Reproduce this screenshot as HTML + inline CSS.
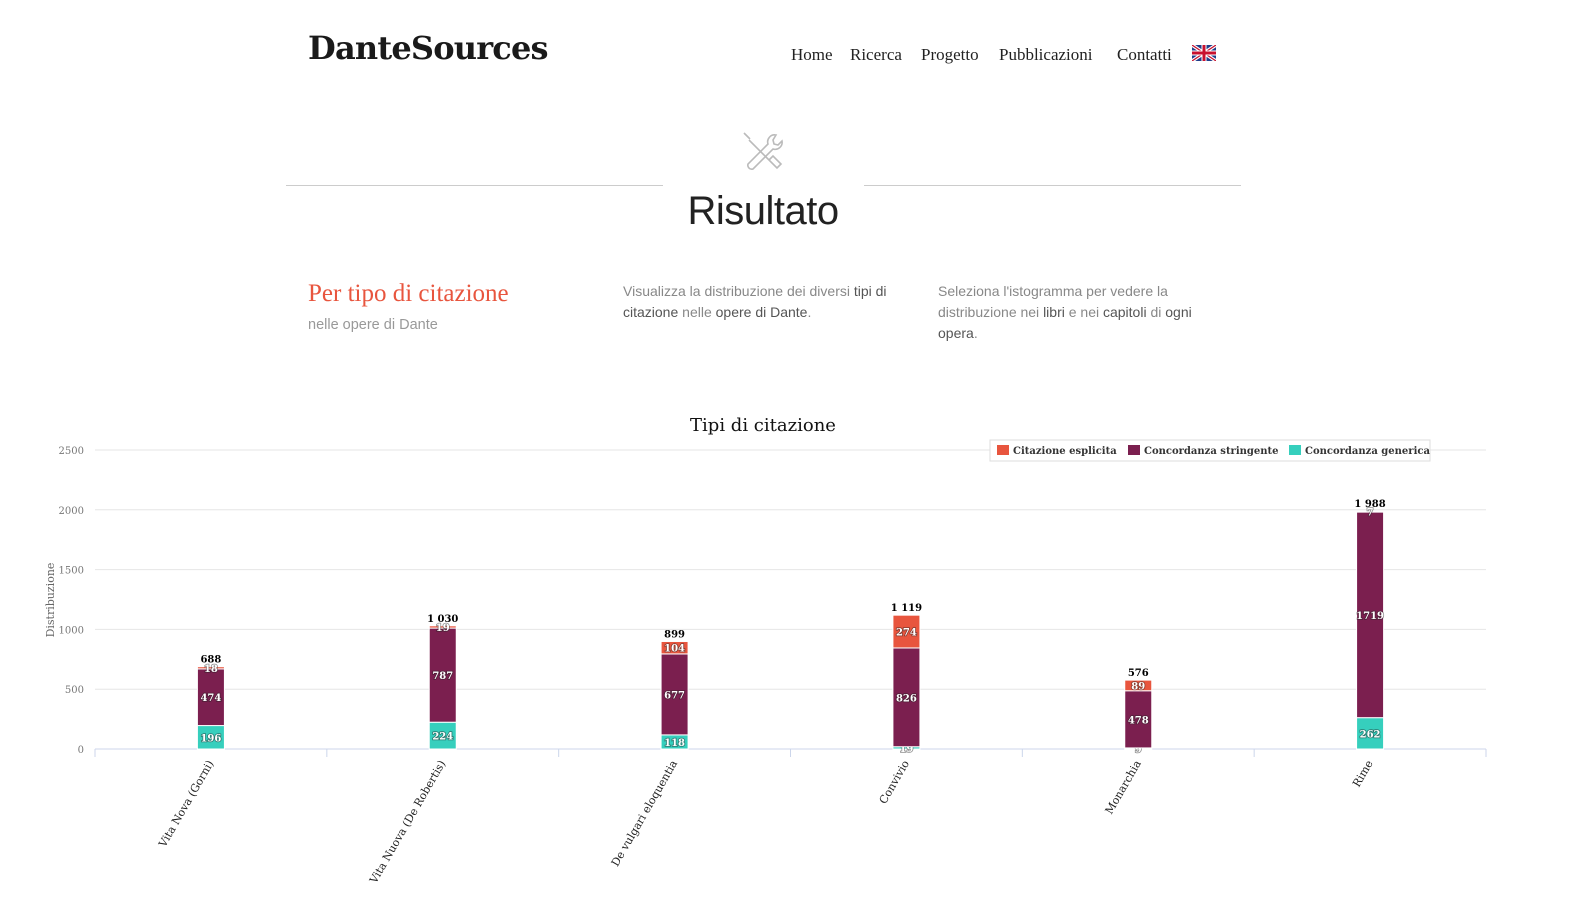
<!DOCTYPE html>
<html style="overflow:hidden"><head><meta charset="utf-8">
<style>
html,body{margin:0;width:1576px;height:900px;overflow:hidden}
body{background:#fff;font-family:"DejaVu Serif","Liberation Serif",serif;position:relative}
.abs{position:absolute}
.logo{left:308px;top:29px;font-size:32px;font-weight:bold;color:#1a1a1a;letter-spacing:-0.8px}
.nav{top:45px;font-size:15.5px;color:#222;font-family:"Liberation Serif","DejaVu Serif",serif;font-size:17px}
.intro{font-size:14px;color:#888;line-height:21px;font-family:"Liberation Sans","DejaVu Sans",sans-serif}
.intro b{color:#555;font-weight:normal}
</style></head><body>
<div class="abs logo">DanteSources</div>
<div class="abs nav" style="left:791px">Home</div>
<div class="abs nav" style="left:850px">Ricerca</div>
<div class="abs nav" style="left:921px">Progetto</div>
<div class="abs nav" style="left:999px">Pubblicazioni</div>
<div class="abs nav" style="left:1117px">Contatti</div>
<svg class="abs" style="left:1192px;top:45px" width="24" height="16" viewBox="0 0 24 16">
<rect width="24" height="16" fill="#1f3d8a"/><path d="M0 0L24 16M24 0L0 16" stroke="#fff" stroke-width="3.5"/><path d="M0 0L24 16M24 0L0 16" stroke="#c8102e" stroke-width="1.2"/><path d="M12 0V16M0 8H24" stroke="#fff" stroke-width="5"/><path d="M12 0V16M0 8H24" stroke="#c8102e" stroke-width="3"/></svg>
<svg class="abs" style="left:740px;top:129px" width="46" height="46" viewBox="0 0 46 46" fill="none" stroke="#bbb" stroke-width="1.6">
<path d="M4 4l6 6M9 11l22 22M29 31l8 8 4-4-8-8-4 4"/><path d="M36 6a7 7 0 0 0-8 9L8 35a4 4 0 0 0 5 5l20-20a7 7 0 0 0 9-8l-4 4-4-1-1-4z"/></svg>
<div class="abs" style="left:286px;top:185px;width:377px;height:1px;background:#ccc"></div>
<div class="abs" style="left:864px;top:185px;width:377px;height:1px;background:#ccc"></div>
<div class="abs" style="left:0;width:1526px;text-align:center;top:189px;font-size:40px;color:#222;font-family:'Liberation Sans','DejaVu Sans',sans-serif;letter-spacing:-0.5px">Risultato</div>
<div class="abs" style="left:308px;top:280px;font-size:23px;color:#e8553e;font-family:'Liberation Serif','DejaVu Serif',serif;font-size:25px">Per tipo di citazione</div>
<div class="abs intro" style="left:308px;top:315px;font-size:14.5px;color:#999">nelle opere di Dante</div>
<div class="abs intro" style="left:623px;top:281px;width:270px">Visualizza la distribuzione dei diversi <b>tipi di citazione</b> nelle <b>opere di Dante</b>.</div>
<div class="abs intro" style="left:938px;top:281px;width:280px">Seleziona l'istogramma per vedere la distribuzione nei <b>libri</b> e nei <b>capitoli</b> di <b>ogni opera</b>.</div>
<svg class="abs" style="left:0;top:400px" width="1576" height="500" id="chart" font-family="DejaVu Serif, Liberation Serif, serif"></svg>
<script>
const categories=["Vita Nova (Gorni)","Vita Nuova (De Robertis)","De vulgari eloquentia","Convivio","Monarchia","Rime"];
const explicitVals=[18,19,104,274,89,7];
const strictVals=[474,787,677,826,478,1719];
const genericVals=[196,224,118,19,9,262];
const yTicks=[0,500,1000,1500,2000,2500];
const seriesNames=["Citazione esplicita","Concordanza stringente","Concordanza generica"];
const colors=["#e8553e","#7b1f4f","#36cfbd"];
const svg=document.getElementById('chart');
const NS="http://www.w3.org/2000/svg";
const x0=95,x1=1486,yBase=349,yTop=50,yMax=2500;
const y=v=>yBase-(v/yMax)*(yBase-yTop);
const band=(x1-x0)/categories.length;
const xc=i=>x0+band*(i+0.5);
function mk(t,a,p){const e=document.createElementNS(NS,t);for(const k in a)e.setAttribute(k,a[k]);(p||svg).appendChild(e);return e;}
let t=mk('text',{x:763,y:31,'text-anchor':'middle','font-size':18,fill:'#111'});t.textContent="Tipi di citazione";


yTicks.forEach(v=>{
 const l=mk('line',{x1:x0,x2:x1,y1:y(v),y2:y(v),stroke:v===0?'#ccd6eb':'#e6e6e6'});
 
 
 const tx=mk('text',{x:84,y:y(v)+4,'text-anchor':'end','font-size':10,fill:'#777'});tx.textContent=v;
 
 
});
t=mk('text',{transform:'translate(54,200) rotate(-90)','text-anchor':'middle','font-size':11,fill:'#666'});t.textContent="Distribuzione";


for(let i=0;i<=categories.length;i++){const l=mk('line',{x1:x0+band*i,x2:x0+band*i,y1:yBase,y2:yBase+8,stroke:'#ccd6eb'});
 
 }
const bw=27;
categories.forEach((c,i)=>{
 const vals=[genericVals[i],strictVals[i],explicitVals[i]];
 const cols=[colors[2],colors[1],colors[0]];
 let acc=0;
 vals.forEach((v,j)=>{
  const top=y(acc+v),bot=y(acc);
  const r=mk('rect',{x:xc(i)-bw/2,y:top,width:bw,height:Math.max(bot-top,0.5),fill:cols[j],stroke:'#fff','stroke-width':1});
  
  
  const tx=mk('text',{x:xc(i),y:(top+bot)/2+4,'text-anchor':'middle','font-size':10,'font-weight':'bold',fill:'#fff',stroke:'#222','stroke-width':1.6,'paint-order':'stroke','stroke-opacity':0.5});tx.textContent=v;
  
  
  acc+=v;
 });
 const tt=mk('text',{x:xc(i),y:y(acc)-4,'text-anchor':'middle','font-size':10,'font-weight':'bold',fill:'#000'});
 tt.textContent=acc>=1000?Math.floor(acc/1000)+" "+String(acc%1000).padStart(3,'0'):acc;
 
 
 const xl=mk('text',{transform:`translate(${xc(i)+3},${yBase+14}) rotate(-60)`,'text-anchor':'end','font-size':11,fill:'#222'});xl.textContent=c;
 
 
});
const lg=mk('g',{});


mk('rect',{x:990,y:40,width:440,height:21,fill:'#fff',stroke:'#ddd'},lg);
const lx=[997,1128,1289];
seriesNames.forEach((n,j)=>{
 const g=mk('g',{},lg);
 
 
 mk('rect',{x:lx[j],y:45,width:12,height:10,fill:colors[j]},g);
 const tx=mk('text',{x:lx[j]+16,y:54,'font-size':10,'font-weight':'bold',fill:'#333'},g);tx.textContent=n;
});
</script>
</body></html>
